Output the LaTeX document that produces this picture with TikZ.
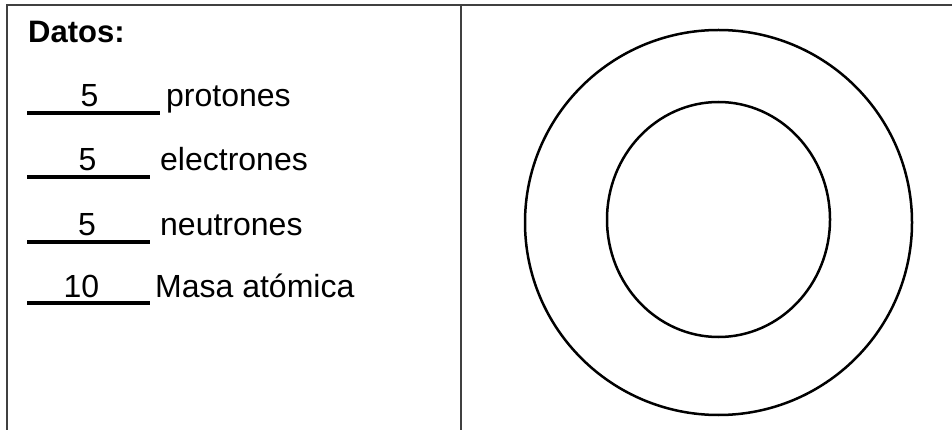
\documentclass[tikz,border=0pt]{standalone}
\usepackage{fontspec}
\setmainfont{Liberation Sans}
\tikzset{
    rule/.style={black!75, line width=1.8pt},
    blank/.style={black, line width=3.2pt},
    shell/.style={black, line width=2.5pt},
    txt/.style={inner sep=0pt, font=\fontsize{32}{38}\selectfont},
}
\begin{document}
\begin{tikzpicture}[x=1pt, y=-1pt]
    \useasboundingbox (0, 0) rectangle (952, 430);

    % table frame
    \draw[rule] (7, 430) -- (7, 5) -- (952, 5);
    \draw[rule] (461, 5) -- (461, 430);

    \node[txt, anchor=base west, font=\fontsize{31}{38}\selectfont\bfseries] (datos) at (28, 43) {Datos:};

    % answer lines
    \foreach \i/\yb/\val/\cx/\xe/\lab/\lx in {1/107/5/89.5/160/protones/166,
            2/171/5/87.5/150/electrones/160, 3/236/5/87/150/neutrones/160,
            4/297/10/81.5/150/{Masa atómica}/155} {
            \coordinate (ls\i) at (27, \yb+6);
            \coordinate (le\i) at (\xe, \yb+6);
            \draw[blank] (ls\i) -- (le\i);
            \node[txt, anchor=base] (num\i) at (\cx, \yb) {\val};
            \node[txt, anchor=base west] (lab\i) at (\lx, \yb) {\lab};
        }

    % atom shells
    \draw[shell] (718.5, 222.5) ellipse [x radius=193.5, y radius=192.5];
    \draw[shell] (718.5, 219.5) ellipse [x radius=111.5, y radius=117.5];
\end{tikzpicture}
\end{document}
